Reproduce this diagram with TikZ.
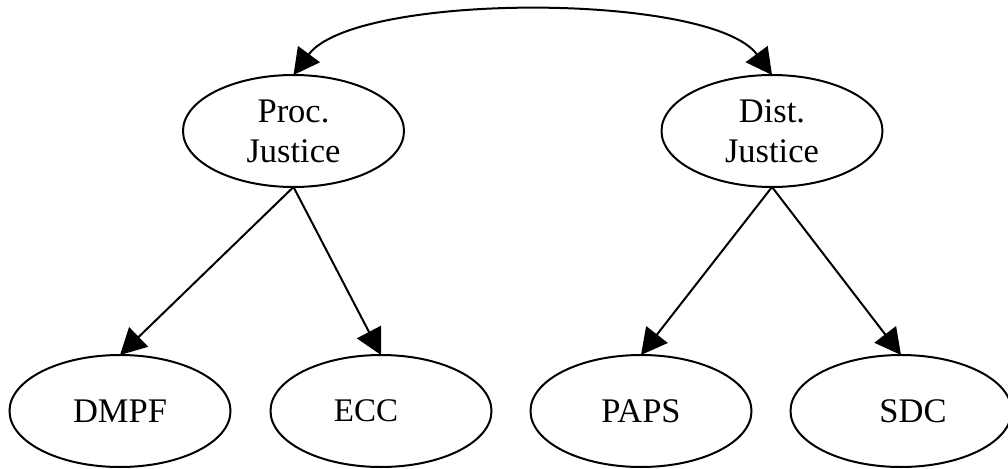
\documentclass[tikz,border=0pt]{standalone}
\usepackage{fontspec}
\setmainfont{Liberation Serif}
\usetikzlibrary{shapes.geometric,arrows.meta}
\tikzset{
  oval/.style={draw, ellipse, line width=2pt, inner sep=0pt, outer sep=0pt,
    minimum width=221pt, minimum height=112pt, align=center,
    font=\fontsize{34.5}{40}\selectfont},
  edge/.style={line width=2pt, -{Triangle[length=26pt,width=27pt]}},
  bothedge/.style={line width=2pt, {Triangle[length=26pt,width=27pt]}-{Triangle[length=26pt,width=27pt]}}
}
\begin{document}
\begin{tikzpicture}[x=1pt,y=-1pt]
\useasboundingbox (0,0) rectangle (1008,468);
\node[oval] (proc) at (293.5,131) {Proc.\\Justice};
\node[oval] (dist) at (772,131) {Dist.\\Justice};
\node[oval] (dmpf) at (120,411) {\raisebox{-2pt}{DMPF}};
\node[oval] (ecc) at (381,411) {\hspace*{-30pt}\raisebox{1pt}{\fontsize{33}{38}\selectfont ECC}};
\node[oval] (paps) at (641,411) {\raisebox{-2pt}{PAPS}};
\node[oval] (sdc) at (901,411) {\hspace*{24pt}\raisebox{-2pt}{SDC}};
\draw[bothedge] (proc.north) .. controls (355,-8) and (711,-8) .. (dist.north);
\draw[edge] (proc.south) -- (dmpf.north);
\draw[edge] (proc.south) -- (ecc.north);
\draw[edge] (dist.south) -- (paps.north);
\draw[edge] (dist.south) -- (sdc.north);
\end{tikzpicture}
\end{document}
